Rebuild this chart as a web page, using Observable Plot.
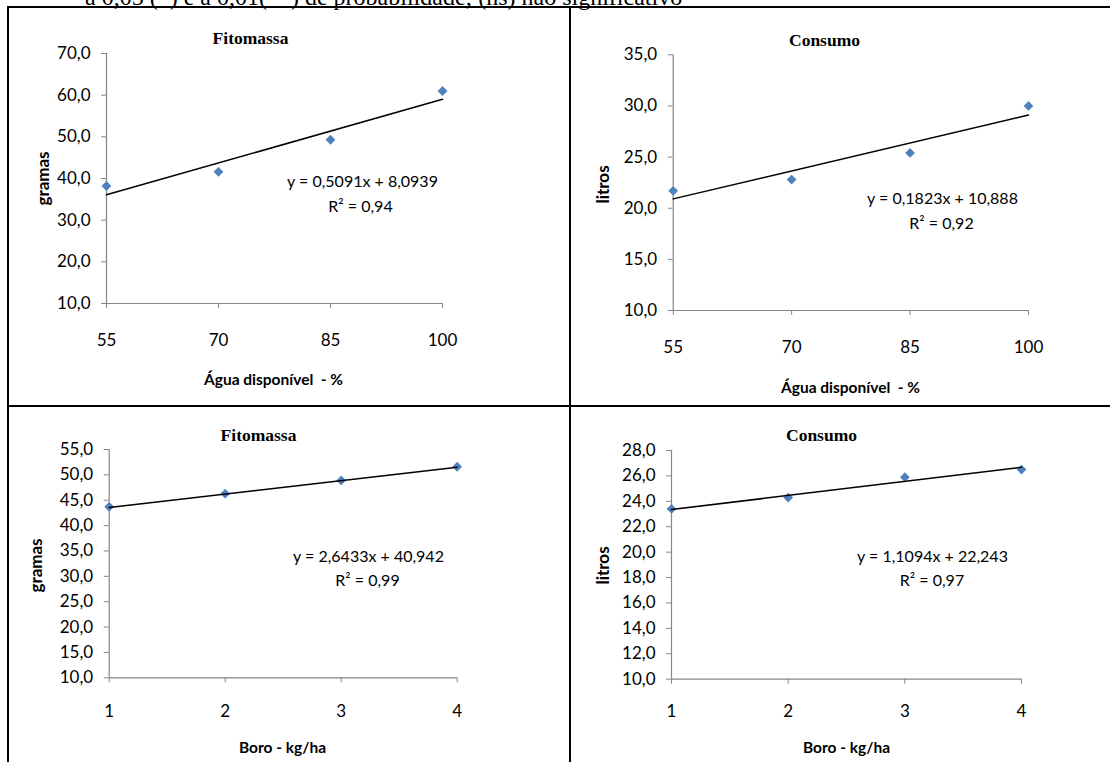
<!DOCTYPE html>
<html>
<head>
<meta charset="utf-8">
<script src="https://cdn.jsdelivr.net/npm/d3@7"></script>
<script src="https://cdn.jsdelivr.net/npm/@observablehq/plot@0.6"></script>
<style>
  html, body { margin: 0; padding: 0; background: #fff; }
  #wrap { position: relative; width: 1110px; height: 762px; overflow: hidden; background: #fff; }
  .panel { position: absolute; }
  .bar { position: absolute; background: #000; }
  #head { position: absolute; left: 0; top: 0; }
</style>
</head>
<body>
<div id="wrap">
  <svg id="head" width="1110" height="12"><text x="85" y="5" font-family="Liberation Serif, Times New Roman, serif" font-size="24" fill="#000">a 0,05 (*) e a 0,01(**) de probabilidade; (ns) não significativo</text></svg>
</div>
<script>
// ---- data ----
const agua = [55, 70, 85, 100];
const boro = [1, 2, 3, 4];
const fitoAgua = [38.2, 41.6, 49.3, 61.0];
const consAgua = [21.7, 22.8, 25.4, 30.0];
const fitoBoro = [43.7, 46.3, 48.9, 51.6];
const consBoro = [23.4, 24.3, 25.9, 26.5];

const slopes = [0.5091, 0.1823, 2.6433, 1.1094];
const intercepts = [8.0939, 10.888, 40.942, 22.243];
const eqTexts = ["y = 0,5091x + 8,0939", "y = 0,1823x + 10,888", "y = 2,6433x + 40,942", "y = 1,1094x + 22,243"];
const r2Texts = ["R² = 0,94", "R² = 0,92", "R² = 0,99", "R² = 0,97"];
const titles = ["Fitomassa", "Consumo", "Fitomassa", "Consumo"];
const yLabels = ["gramas", "litros", "gramas", "litros"];
const xLabels = ["Água disponível  - %", "Água disponível  - %", "Boro - kg/ha", "Boro - kg/ha"];

const yTicksFitoAgua = [10, 20, 30, 40, 50, 60, 70];
const yTicksConsAgua = [10, 15, 20, 25, 30, 35];
const yTicksFitoBoro = [10, 15, 20, 25, 30, 35, 40, 45, 50, 55];
const yTicksConsBoro = [10, 12, 14, 16, 18, 20, 22, 24, 26, 28];

// ---- layout ----
const wrap = document.getElementById("wrap");
function bar(l, t, w, h) {
  const d = document.createElement("div");
  d.className = "bar";
  Object.assign(d.style, {left: l + "px", top: t + "px", width: w + "px", height: h + "px"});
  wrap.appendChild(d);
}
bar(7, 6, 1103, 2);     // top border
bar(7, 6, 2, 756);      // left border
bar(569, 6, 2, 756);    // middle vertical
bar(7, 405, 1103, 2);   // middle horizontal

const panels = [
  {left: 9, top: 9, width: 561, height: 397, mL: 97, mR: 128, mT: 44, mB: 103,
   xs: agua, ys: fitoAgua, yTicks: yTicksFitoAgua, xPad: 25,
   pos: {title: [250, 38], eq: [362, 181], r2: [360, 206], xlabel: [273, 380], ylabel: [43, 178]}},
  {left: 572, top: 9, width: 538, height: 397, mL: 100.7, mR: 82, mT: 45.3, mB: 96,
   xs: agua, ys: consAgua, yTicks: yTicksConsAgua, xPad: 25,
   pos: {title: [824, 40], eq: [942, 198], r2: [941, 223], xlabel: [850, 388], ylabel: [603, 184]}},
  {left: 9, top: 408, width: 561, height: 354, mL: 99.7, mR: 113.3, mT: 41, mB: 84.7,
   xs: boro, ys: fitoBoro, yTicks: yTicksFitoBoro, xPad: 22.5,
   pos: {title: [258, 435], eq: [368, 556], r2: [367, 580], xlabel: [282, 748], ylabel: [36, 565]}},
  {left: 572, top: 408, width: 538, height: 354, mL: 99, mR: 89, mT: 42, mB: 83.3,
   xs: boro, ys: consBoro, yTicks: yTicksConsBoro, xPad: 21,
   pos: {title: [821, 435], eq: [932, 556], r2: [931.5, 580], xlabel: [846, 748], ylabel: [603, 565]}}
];

const fmt1 = d => d.toFixed(1).replace(".", ",");
const AX = "#868686";
const SANS = "Lato, Calibri, sans-serif";
const SERIF = "Liberation Serif, Times New Roman, serif";
const FS = 17;
const EQ_FS = 16;

panels.forEach((p, i) => {
  const pts = p.xs.map((x, k) => ({x, y: p.ys[k]}));
  const xDom = [p.xs[0], p.xs[p.xs.length - 1]];
  const yDom = [p.yTicks[0], p.yTicks[p.yTicks.length - 1]];
  const trend = xDom.map(x => ({x, y: slopes[i] * x + intercepts[i]}));
  const fx = p.left + p.mL, fy = p.top + p.mT;
  const at = ([ax, ay]) => ({frameAnchor: "top-left", dx: ax - fx, dy: ay - fy, textAnchor: "middle", lineAnchor: "middle"});

  const chart = Plot.plot({
    width: p.width, height: p.height,
    marginLeft: p.mL, marginRight: p.mR, marginTop: p.mT, marginBottom: p.mB,
    x: {domain: xDom, axis: null},
    y: {domain: yDom, axis: null},
    style: {fontFamily: SANS, fontSize: FS + "px", color: "#000", background: "transparent", overflow: "visible"},
    marks: [
      Plot.ruleX([xDom[0]], {stroke: AX, strokeWidth: 1.2}),
      Plot.ruleY([yDom[0]], {stroke: AX, strokeWidth: 1.2}),
      Plot.axisY({ticks: p.yTicks, tickFormat: fmt1, tickSize: 5, tickPadding: 11, stroke: AX, fill: "#000", fontSize: FS, label: null}),
      Plot.axisX({ticks: p.xs, tickFormat: d => String(d), tickSize: 5, tickPadding: p.xPad, stroke: AX, fill: "#000", fontSize: FS, label: null}),
      Plot.dot(pts, {x: "x", y: "y", symbol: "diamond2", r: 4.4, fill: "#4F81BD"}),
      Plot.line(trend, {x: "x", y: "y", stroke: "#000", strokeWidth: 1.5}),
      Plot.text([titles[i]], {text: d => d, ...at(p.pos.title), fontFamily: SERIF, fontWeight: "bold", fontSize: 17.5, fill: "#000"}),
      Plot.text([eqTexts[i]], {text: d => d, ...at(p.pos.eq), fontSize: EQ_FS, fill: "#000"}),
      Plot.text([r2Texts[i]], {text: d => d, ...at(p.pos.r2), fontSize: EQ_FS, fill: "#000"}),
      Plot.text([xLabels[i]], {text: d => d, ...at(p.pos.xlabel), fontWeight: "bold", fontSize: 15.5, fill: "#000"}),
      Plot.text([yLabels[i]], {text: d => d, ...at(p.pos.ylabel), rotate: -90, fontWeight: "bold", fontSize: 17, fill: "#000"})
    ]
  });
  chart.classList.add("panel");
  chart.style.left = p.left + "px";
  chart.style.top = p.top + "px";
  chart.style.position = "absolute";
  wrap.appendChild(chart);
});
</script>
</body>
</html>
